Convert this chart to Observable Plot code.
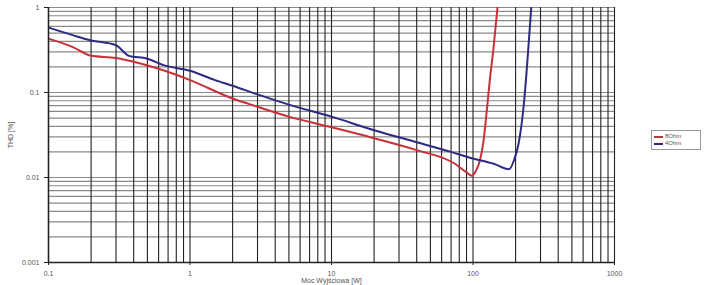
<!DOCTYPE html>
<html><head><meta charset="utf-8">
<script src="https://cdn.jsdelivr.net/npm/d3@7"></script>
<script src="https://cdn.jsdelivr.net/npm/@observablehq/plot@0.6"></script>
<style>
body{margin:0;background:#fff;font-family:"Liberation Sans",Arial,sans-serif}
#c{position:relative;width:705px;height:285px}
#legend{position:absolute;left:651px;top:130px;width:44px;border:1px solid #9a9a9a;padding:2px 2px;font-size:6px;color:#555;line-height:7px;background:#fff}
#legend .r{display:flex;align-items:center;gap:2px}
#legend .s{display:inline-block;width:9px;height:2px}
</style></head><body>
<div id="c"></div>
<script>
const watts4 = [0.1, 0.15, 0.2, 0.3, 0.37, 0.5, 0.65, 1, 1.5, 2, 3, 5, 10, 20, 40, 70, 100, 140, 180, 195, 210, 230, 245, 258];
const thd4   = [0.58, 0.47, 0.41, 0.36, 0.27, 0.25, 0.21, 0.18, 0.14, 0.12, 0.095, 0.072, 0.052, 0.036, 0.026, 0.02, 0.0167, 0.0145, 0.0125, 0.016, 0.025, 0.08, 0.3, 1.0];
const watts8 = [0.1, 0.15, 0.2, 0.3, 0.4, 0.6, 1, 2, 3, 5, 10, 20, 40, 74, 90, 98, 105, 112, 118, 125, 132, 139, 149];
const thd8   = [0.43, 0.34, 0.27, 0.255, 0.23, 0.19, 0.14, 0.085, 0.068, 0.052, 0.039, 0.029, 0.021, 0.0146, 0.0115, 0.0105, 0.012, 0.016, 0.025, 0.06, 0.15, 0.31, 1.0];
const xTicks = [0.1, 1, 10, 100, 1000];
const yTicks = [0.001, 0.01, 0.1, 1];
const seriesNames = ["8Ohm", "4Ohm"];
const seriesColors = ["#c8303a", "#2e2a82"];

const grid = (lo, hi) => { const out = []; for (let d = lo; d < hi * 0.999; d *= 10) for (let m = 1; m <= 9; m++) out.push(+(d * m).toPrecision(3)); out.push(hi); return out; };
const xGrid = grid(0.1, 1000);
const yGrid = grid(0.001, 1);

const d4 = watts4.map((w, i) => ({w, t: thd4[i]}));
const d8 = watts8.map((w, i) => ({w, t: thd8[i]}));

const plot = Plot.plot({
  width: 705, height: 285,
  marginLeft: 48, marginRight: 91, marginTop: 7, marginBottom: 23,
  style: {fontFamily: "Liberation Sans, Arial, sans-serif", fontSize: "7px", background: "#fff"},
  x: {type: "log", domain: [0.1, 1000]},
  y: {type: "log", domain: [0.001, 1]},
  marks: [
    Plot.ruleY(yGrid, {stroke: "#8a8a8a", strokeWidth: 1.2}),
    Plot.ruleX(xGrid, {stroke: "#222", strokeWidth: 1.1}),
    Plot.line(d8, {x: "w", y: "t", stroke: seriesColors[0], strokeWidth: 2, curve: "monotone-x", clip: true}),
    Plot.line(d4, {x: "w", y: "t", stroke: seriesColors[1], strokeWidth: 2, curve: "monotone-x", clip: true}),
    Plot.axisX(xTicks, {tickFormat: d => String(d), tickSize: 3, stroke: "#222", fill: "#555", label: "Moc Wyjściowa [W]", labelAnchor: "center", labelArrow: "none", labelOffset: 20}),
    Plot.axisY(yTicks, {tickFormat: d => String(d), tickSize: 4, stroke: "#222", fill: "#555", label: "THD [%]", labelAnchor: "center", labelArrow: "none", labelOffset: 40}),
    Plot.ruleX([0.1], {stroke: "#222", strokeWidth: 1.5}),
    Plot.ruleY([0.001], {stroke: "#222", strokeWidth: 1.5})
  ]
});
document.getElementById("c").appendChild(plot);
const lg = document.createElement("div");
lg.id = "legend";
lg.innerHTML = seriesNames.map((n, i) => `<div class="r"><span class="s" style="background:${seriesColors[i]}"></span><span>${n}</span></div>`).join("");
document.getElementById("c").appendChild(lg);
</script>
</body></html>
